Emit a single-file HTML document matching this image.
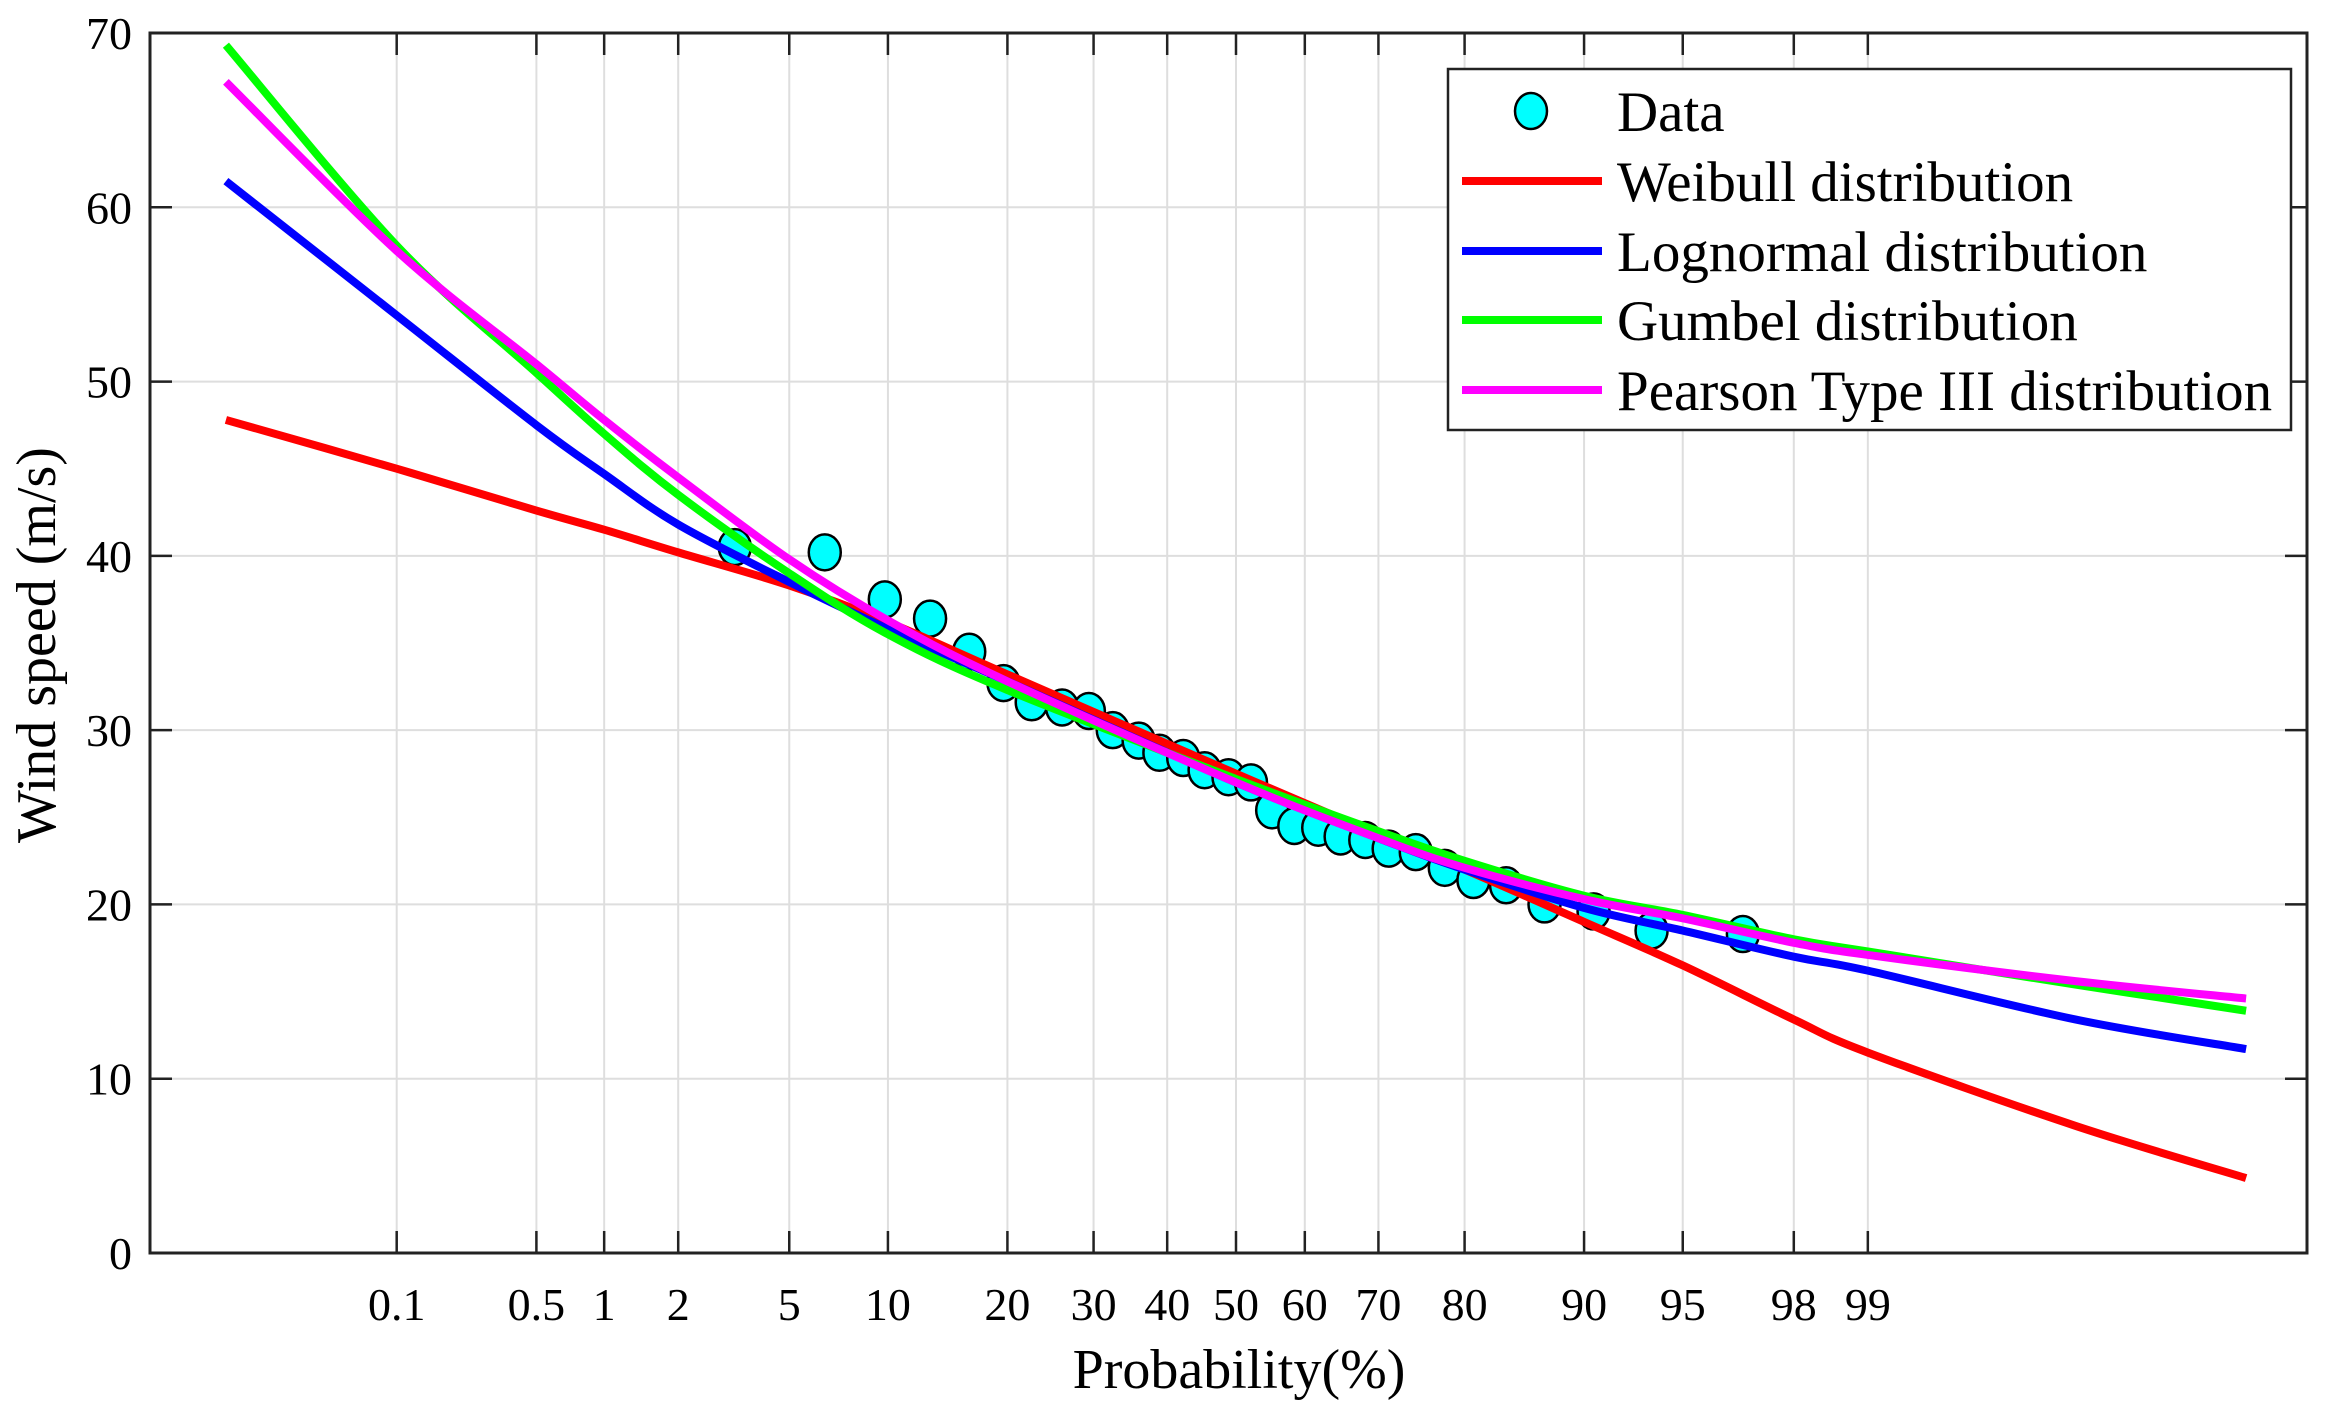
<!DOCTYPE html>
<html><head><meta charset="utf-8"><style>
html,body{margin:0;padding:0;background:#fff;}
svg{display:block;font-family:"Liberation Serif","DejaVu Serif",serif;}
</style></head><body>
<svg id="chart" width="2349" height="1405" viewBox="0 0 2349 1405" xmlns="http://www.w3.org/2000/svg">
<g id="grid"></g>
<g id="series"></g>
<g id="axes"></g>
<text x="1239" y="1388" font-size="56" text-anchor="middle">Probability(%)</text>
<text transform="translate(55,645) rotate(-90)" font-size="56" text-anchor="middle">Wind speed (m/s)</text>
<g>
<rect x="1448" y="69" width="843" height="361" fill="#fff" stroke="#222" stroke-width="2.5"/>
<g><ellipse cx="1531" cy="111" rx="16" ry="18" fill="#00ffff" stroke="#000" stroke-width="2.5"/><text x="1617" y="131" font-size="57">Data</text></g>
<g><line x1="1462" y1="181" x2="1602" y2="181" stroke="#ff0000" stroke-width="8"/><text x="1617" y="201" font-size="57">Weibull distribution</text></g>
<g><line x1="1462" y1="251" x2="1602" y2="251" stroke="#0000ff" stroke-width="8"/><text x="1617" y="271" font-size="57">Lognormal distribution</text></g>
<g><line x1="1462" y1="320" x2="1602" y2="320" stroke="#00ff00" stroke-width="8"/><text x="1617" y="340" font-size="57">Gumbel distribution</text></g>
<g><line x1="1462" y1="390" x2="1602" y2="390" stroke="#ff00ff" stroke-width="8"/><text x="1617" y="410" font-size="57">Pearson Type III distribution</text></g>
</g>
</svg>
<script>
const xTicks = [0.1,0.5,1,2,5,10,20,30,40,50,60,70,80,90,95,98,99];
const xTickLabels = ["0.1","0.5","1","2","5","10","20","30","40","50","60","70","80","90","95","98","99"];
const yTicks = [0,10,20,30,40,50,60,70];
const curveP = [0.01,0.1,0.5,1,2,5,10,20,50,70,80,90,95,98,99,99.9,99.99];
const weibull = [47.8,45.0,42.6,41.5,40.2,38.3,36.2,33.2,27.5,24.0,22.0,19.0,16.5,13.4,11.5,7.3,4.3];
const lognormal = [61.5,53.8,47.5,44.7,41.8,38.5,35.8,32.8,27.0,23.8,22.0,19.8,18.5,17.0,16.2,13.4,11.7];
const gumbel = [69.3,57.8,50.5,47.0,43.5,39.0,35.5,32.3,27.2,24.2,22.5,20.5,19.4,18.0,17.3,15.4,13.9];
const pearson = [67.2,57.5,51.0,47.8,44.5,39.8,36.3,32.8,27.0,23.8,22.1,20.3,19.2,17.8,17.1,15.6,14.6];
const dataP = [3.25,6.5,9.8,13.0,16.3,19.6,22.6,26.1,29.4,32.5,36.0,38.9,42.3,45.4,48.9,52.2,55.3,58.5,61.9,65.0,68.3,71.3,74.6,77.9,80.9,84.0,87.2,90.6,93.7,96.9];
const dataV = [40.5,40.2,37.5,36.4,34.5,32.7,31.6,31.3,31.1,30.0,29.4,28.7,28.4,27.7,27.3,27.0,25.4,24.5,24.4,23.9,23.7,23.2,23.0,22.1,21.4,21.1,20.0,19.6,18.5,18.3];

const NS='http://www.w3.org/2000/svg';
const L=150,R=2307,T=33,B=1253;
function norminv(p){
 const a=[-39.69683028665376,220.9460984245205,-275.9285104469687,138.3577518672690,-30.66479806614716,2.506628277459239];
 const b=[-54.47609879822406,161.5858368580409,-155.6989798598866,66.80131188771972,-13.28068155288572];
 const c=[-0.007784894002430293,-0.3223964580411365,-2.400758277161838,-2.549732539343734,4.374664141464968,2.938163982698783];
 const d=[0.007784695709041462,0.3224671290700398,2.445134137142996,3.754408661907416];
 const pl=0.02425;let q,r;
 if(p<pl){q=Math.sqrt(-2*Math.log(p));return (((((c[0]*q+c[1])*q+c[2])*q+c[3])*q+c[4])*q+c[5])/((((d[0]*q+d[1])*q+d[2])*q+d[3])*q+1);}
 if(p>1-pl){q=Math.sqrt(-2*Math.log(1-p));return -(((((c[0]*q+c[1])*q+c[2])*q+c[3])*q+c[4])*q+c[5])/((((d[0]*q+d[1])*q+d[2])*q+d[3])*q+1);}
 q=p-0.5;r=q*q;return (((((a[0]*r+a[1])*r+a[2])*r+a[3])*r+a[4])*r+a[5])*q/(((((b[0]*r+b[1])*r+b[2])*r+b[3])*r+b[4])*r+1);
}
function xs(p){return 1236+271.6*norminv(p/100);}
function ys(v){return B-(v/70)*(B-T);}
function mk(tag,attrs,parent){const e=document.createElementNS(NS,tag);for(const k in attrs)e.setAttribute(k,attrs[k]);parent.appendChild(e);return e;}
const grid=document.getElementById('grid'),axes=document.getElementById('axes'),series=document.getElementById('series');
xTicks.forEach((p,i)=>{
 const x=xs(p);
 const g=mk('line',{x1:x,y1:T,x2:x,y2:B,stroke:'#dedede','stroke-width':2},grid);
 
 
 mk('line',{x1:x,y1:B,x2:x,y2:B-22,stroke:'#222','stroke-width':2.5},axes);
 mk('line',{x1:x,y1:T,x2:x,y2:T+22,stroke:'#222','stroke-width':2.5},axes);
 const t=mk('text',{x:x,y:1320,'font-size':46,'text-anchor':'middle'},axes);
 t.textContent=xTickLabels[i];
 
 
});
yTicks.forEach(v=>{
 const y=ys(v);
 const g=mk('line',{x1:L,y1:y,x2:R,y2:y,stroke:'#dedede','stroke-width':2},grid);
 
 
 mk('line',{x1:L,y1:y,x2:L+22,y2:y,stroke:'#222','stroke-width':2.5},axes);
 mk('line',{x1:R,y1:y,x2:R-22,y2:y,stroke:'#222','stroke-width':2.5},axes);
 const t=mk('text',{x:132,y:y+16,'font-size':46,'text-anchor':'end'},axes);
 t.textContent=String(v);
 
 
});
mk('rect',{x:L,y:T,width:R-L,height:B-T,fill:'none',stroke:'#222','stroke-width':3},axes);
function curve(vals,color,name){
 const pts=curveP.map((p,i)=>[xs(p),ys(vals[i])]);
 let d='M'+pts[0][0]+','+pts[0][1];
 for(let i=0;i<pts.length-1;i++){
  const p0=pts[Math.max(0,i-1)],p1=pts[i],p2=pts[i+1],p3=pts[Math.min(pts.length-1,i+2)];
  const c1=[p1[0]+(p2[0]-p0[0])/6,p1[1]+(p2[1]-p0[1])/6];
  const c2=[p2[0]-(p3[0]-p1[0])/6,p2[1]-(p3[1]-p1[1])/6];
  d+=' C'+c1+' '+c2+' '+p2;
 }
 const e=mk('path',{d:d,fill:'none',stroke:color,'stroke-width':8},series);
 
 
}
const dg=mk('g',{},series);


dataP.forEach((p,i)=>{
 const c=mk('ellipse',{cx:xs(p),cy:ys(dataV[i]),rx:16,ry:18,fill:'#00ffff',stroke:'#000','stroke-width':2.5},dg);
 
 
});
curve(weibull,'#ff0000','weibull-curve');
curve(lognormal,'#0000ff','lognormal-curve');
curve(gumbel,'#00ff00','gumbel-curve');
curve(pearson,'#ff00ff','pearson-curve');
</script>
</body></html>
